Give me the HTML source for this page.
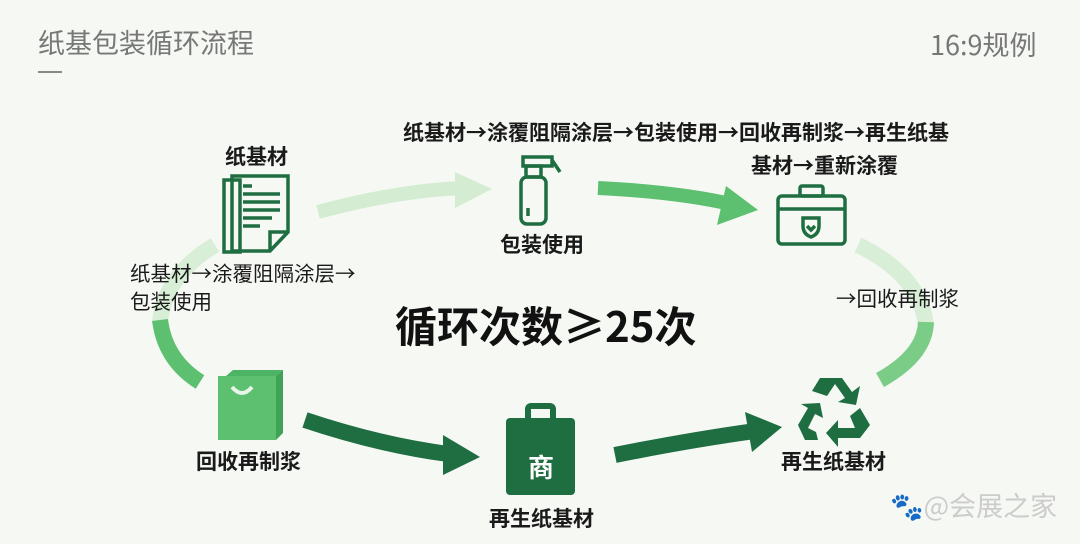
<!DOCTYPE html>
<html><head><meta charset="utf-8"><style>
body{margin:0;width:1080px;height:544px;background:#f6f8f4;position:relative;overflow:hidden;font-family:"Noto Sans CJK SC",sans-serif;color:#1a1a1a}
.t{position:absolute;white-space:nowrap;font-weight:bold;font-size:20px;line-height:1}
</style></head><body>
<div class="t" style="left:38px;top:28px;font-size:27px;font-weight:normal;color:#777">纸基包装循环流程</div>
<div style="position:absolute;left:38px;top:71px;width:24px;height:2px;background:#888"></div>
<div class="t" style="left:930px;top:30px;font-size:27px;font-weight:normal;color:#777">16:9规例</div>

<svg width="1080" height="544" style="position:absolute;left:0;top:0">
<path d="M318 212 Q400 190 465 188" stroke="#d4ecd2" stroke-width="14" fill="none"/>
<polygon points="455,172 492,189 455,208" fill="#d4ecd2"/>
<path d="M598 188 Q680 192 735 205" stroke="#5cc070" stroke-width="14" fill="none"/>
<polygon points="726,186 758,210 717,225" fill="#5cc070"/>
<path d="M858 245 Q920 275 926 325" stroke="#d8eed6" stroke-width="16" fill="none"/>
<path d="M926 322 Q925 355 880 380" stroke="#7acc86" stroke-width="16" fill="none"/>
<path d="M615 455 Q690 440 755 431" stroke="#1e6e42" stroke-width="16" fill="none"/>
<polygon points="745,412 782,427 752,452" fill="#1e6e42"/>
<path d="M305 420 Q380 445 448 454" stroke="#1e6e42" stroke-width="16" fill="none"/>
<polygon points="443,435 480,457 443,475" fill="#1e6e42"/>
<path d="M215 245 Q165 275 160 322" stroke="#d8eed6" stroke-width="16" fill="none"/>
<path d="M160 320 Q165 360 200 382" stroke="#5cc070" stroke-width="16" fill="none"/>

<g stroke="#1e6e42" stroke-width="3.5" fill="none">
<rect x="224" y="180" width="16" height="72"/>
<path d="M232 176 H288 V232 L270 251 H232 Z"/>
<path d="M270 251 V232 H288"/>
<path d="M243 186 H252 M243 194 H280 M243 202 H280 M243 210 H280 M243 218 H272 M243 226 H260"/>
</g>
<g stroke="#1e6e42" stroke-width="3.5" fill="none">
<rect x="521" y="177" width="25" height="47" rx="6"/>
<rect x="526" y="166" width="15" height="11"/>
<path d="M523 157 H552 V166 H523 Z M552 160 L560 172"/>
<path d="M528 208 V216"/>
</g>
<g stroke="#1e6e42" stroke-width="3.5" fill="none">
<rect x="778" y="196" width="67" height="48" rx="4"/>
<path d="M778 209 H845"/>
<rect x="800" y="186" width="23" height="10" rx="2"/>
<path d="M803 218 h16 v8 q0 8 -8 11 q-8 -3 -8 -11z"/>
<path d="M807 226 l4 4 l4 -4"/>
</g>
<polygon points="226,376 233,370 283,370 276,376" fill="#4cb464"/>
<polygon points="276,376 283,370 283,433 276,440" fill="#3fa356"/>
<rect x="218" y="376" width="58" height="64" fill="#5cc070"/>
<path d="M232 387 q10 12 20 0" stroke="#e8f5e8" stroke-width="4" fill="none"/>
<rect x="506" y="418" width="69" height="77" rx="4" fill="#1e6e42"/>
<rect x="528" y="406" width="25" height="18" rx="3" fill="none" stroke="#1e6e42" stroke-width="6"/>
<text x="541" y="477" text-anchor="middle" font-size="26" font-weight="bold" fill="#fff" font-family="Noto Sans CJK SC, sans-serif">商</text>
<g fill="#1e6e42">
<polygon points="820,378 842,378 852,392 860,386 856,405 838,402 845,398 835,384 827,396 812,391"/>
<polygon points="860,408 870,425 860,438 838,438 838,447 826,433 838,420 838,428 855,428 850,416"/>
<polygon points="818,440 805,440 798,425 808,408 801,404 820,403 823,418 815,414 808,428 816,432"/>
</g>
</svg>

<div class="t" style="left:225px;top:146px;font-size:21px">纸基材</div>
<div class="t" style="left:403px;top:122px;font-size:21px">纸基材→涂覆阻隔涂层→包装使用→回收再制浆→再生纸基</div>
<div class="t" style="left:751px;top:155px;font-size:21px">基材→重新涂覆</div>
<div class="t" style="left:500px;top:234px;font-size:21px">包装使用</div>
<div class="t" style="left:130px;top:262px;font-weight:normal;font-size:20.5px">纸基材→涂覆阻隔涂层→</div>
<div class="t" style="left:130px;top:290px;font-weight:normal;font-size:20.5px">包装使用</div>
<div class="t" style="left:395px;top:304px;font-size:42px;font-weight:bold;color:#111">循环次数≥25次</div>
<div class="t" style="left:836px;top:287px;font-weight:normal;font-size:20.5px">→回收再制浆</div>
<div class="t" style="left:196px;top:451px;font-size:21px">回收再制浆</div>
<div class="t" style="left:489px;top:508px;font-size:21px">再生纸基材</div>
<div class="t" style="left:781px;top:451px;font-size:21px">再生纸基材</div>
<div class="t" style="left:890px;top:491px;font-size:27px;font-weight:normal;color:#ccc">🐾@会展之家</div>
</body></html>
